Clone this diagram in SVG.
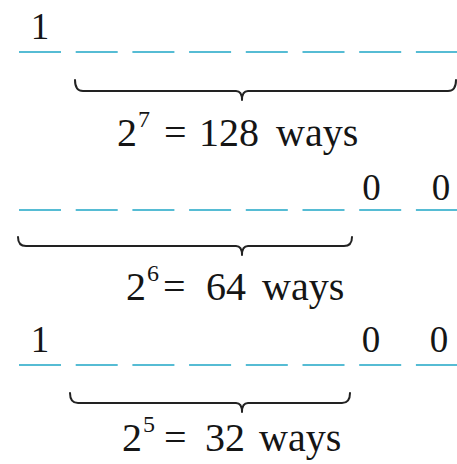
<svg xmlns="http://www.w3.org/2000/svg" width="457" height="464" viewBox="0 0 457 464">
<style>
.dash{stroke:#56bcd4;stroke-width:2;stroke-dasharray:42 14.7;fill:none}
.brace{stroke:#222;stroke-width:2;fill:none;stroke-linecap:round;stroke-linejoin:round}
text{font-family:'Liberation Serif','DejaVu Serif','Times New Roman',serif;fill:#151515}
.dig{font-size:37px;text-anchor:middle}
.lab{font-size:40px}
.sup{font-size:24px}
</style>
<rect width="457" height="464" fill="#fff"/>
<g id="row1">
<line class="dash" x1="19" y1="52" x2="460" y2="52"/>
<text class="dig" x="40" y="39">1</text>
<path class="brace" d="M75,80 Q75,91 83,91 H236 Q242,91 242,100 Q242,91 248,91 H448 Q456,91 456,80"/>
<text class="lab" y="146"><tspan x="117">2</tspan><tspan class="sup" x="138" dy="-19">7</tspan><tspan x="164" dy="19">=</tspan><tspan x="199">128</tspan><tspan x="276">ways</tspan></text>
</g>
<g id="row2">
<line class="dash" x1="19" y1="210" x2="460" y2="210"/>
<text class="dig" x="371.5" y="200">0</text>
<text class="dig" x="441" y="200">0</text>
<path class="brace" d="M18,237 Q18,246 26,246 H236 Q242,246 242,255 Q242,246 248,246 H344 Q352,246 352,237"/>
<text class="lab" y="300"><tspan x="126">2</tspan><tspan class="sup" x="147" dy="-19">6</tspan><tspan x="163" dy="19">=</tspan><tspan x="206">64</tspan><tspan x="262">ways</tspan></text>
</g>
<g id="row3">
<line class="dash" x1="19" y1="365" x2="460" y2="365"/>
<text class="dig" x="40" y="352">1</text>
<text class="dig" x="371" y="352">0</text>
<text class="dig" x="439" y="352">0</text>
<path class="brace" d="M70,393 Q70,403 78,403 H236 Q242,403 242,412 Q242,403 248,403 H342 Q350,403 350,393"/>
<text class="lab" y="451"><tspan x="122">2</tspan><tspan class="sup" x="143" dy="-19">5</tspan><tspan x="164" dy="19">=</tspan><tspan x="205">32</tspan><tspan x="259">ways</tspan></text>
</g>
</svg>
